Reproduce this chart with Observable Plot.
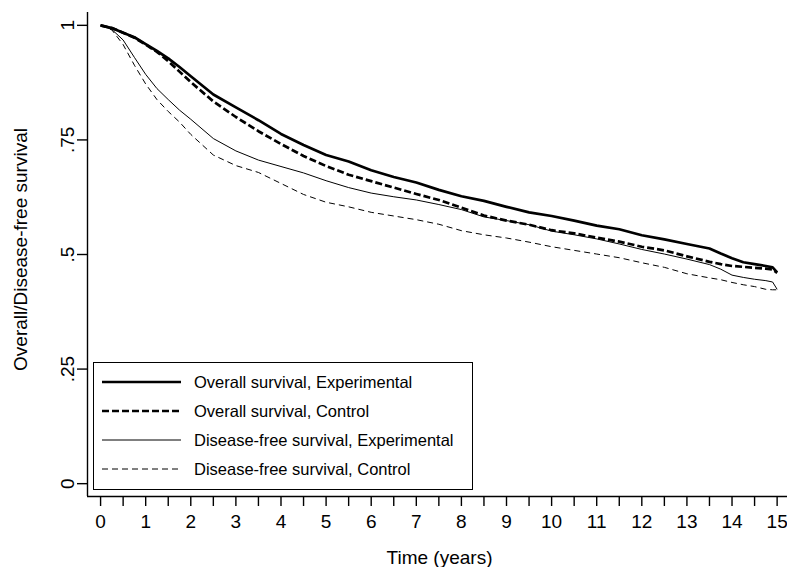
<!DOCTYPE html>
<html><head><meta charset="utf-8">
<script src="https://cdn.jsdelivr.net/npm/d3@7"></script>
<script src="https://cdn.jsdelivr.net/npm/@observablehq/plot@0.6"></script>
<style>
html,body{margin:0;padding:0;background:#fff;}
#chart{position:relative;width:787px;height:567px;font-family:"Liberation Sans",Arial,sans-serif;}
#chart svg{display:block;}
#legend{position:absolute;left:0;top:0;pointer-events:none;}
</style></head><body>
<div id="chart"></div>
<script>
// ---- data ----
const times = [0,0.25,0.5,0.75,1,1.25,1.5,1.75,2,2.5,3,3.5,4,4.5,5,5.5,6,6.5,7,7.5,8,8.5,9,9.5,10,10.5,11,11.5,12,12.5,13,13.5,13.75,14,14.25,14.5,14.75,14.9,15];
const osExperimental = [1,.994,.984,.974,.959,.944,.928,.909,.889,.849,.821,.793,.763,.739,.717,.703,.684,.669,.657,.641,.627,.617,.604,.592,.584,.574,.563,.555,.542,.533,.523,.513,.502,.492,.483,.479,.475,.472,.461];
const osControl = [1,.994,.984,.973,.958,.942,.922,.899,.876,.834,.800,.769,.741,.715,.693,.674,.660,.646,.632,.619,.602,.585,.574,.565,.553,.546,.537,.528,.517,.509,.496,.484,.479,.475,.473,.471,.469,.467,.460];
const dfsExperimental = [1,.991,.968,.930,.893,.862,.838,.815,.795,.753,.726,.706,.692,.678,.661,.646,.634,.626,.619,.609,.598,.582,.574,.565,.551,.543,.534,.523,.511,.501,.490,.478,.468,.455,.450,.446,.443,.440,.424];
const dfsControl = [1,.990,.958,.913,.872,.838,.812,.789,.762,.717,.694,.679,.655,.631,.614,.604,.592,.584,.576,.566,.552,.543,.536,.527,.517,.509,.501,.493,.482,.472,.458,.449,.445,.439,.434,.430,.424,.423,.423];
const seriesLabels = ["Overall survival, Experimental","Overall survival, Control","Disease-free survival, Experimental","Disease-free survival, Control"];
const xTicks = [0,1,2,3,4,5,6,7,8,9,10,11,12,13,14,15];
const xMinorTicks = [0.5,1.5,2.5,3.5,4.5,5.5,6.5,7.5,8.5,9.5,10.5,11.5,12.5,13.5,14.5];
const yTicks = [0,0.25,0.5,0.75,1];
const yTickLabels = ["0",".25",".5",".75","1"];
const xTitle = "Time (years)";
const yTitle = "Overall/Disease-free survival";

// ---- styles ----
const seriesValues = [osExperimental, osControl, dfsExperimental, dfsControl];
const seriesStyle = [
  {strokeWidth: 2.7, dash: null},
  {strokeWidth: 2.7, dash: "7,3"},
  {strokeWidth: 1, dash: null},
  {strokeWidth: 1, dash: "6,4"}
];
const xDomain = [-0.29, 15.23];
const yDomain = [-0.028, 1.028];

const tables = seriesValues.map((vals, k) => times.map((t, i) => ({t, v: vals[i], s: seriesLabels[k]})));

const lineMarks = tables.map((tab, k) => Plot.line(tab, {
  x: "t", y: "v", stroke: "#000",
  strokeWidth: seriesStyle[k].strokeWidth,
  strokeDasharray: seriesStyle[k].dash || undefined,
  strokeLinejoin: "round", strokeLinecap: "butt"
})).reverse();

const chart = Plot.plot({
  width: 787, height: 567,
  marginLeft: 87, marginRight: 0, marginTop: 12, marginBottom: 71,
  style: {fontFamily: '"Liberation Sans", Arial, sans-serif', color: "#000", background: "#fff"},
  x: {domain: xDomain},
  y: {domain: yDomain},
  marks: [
    Plot.ruleX([xDomain[0]], {stroke: "#000", strokeWidth: 1.4}),
    Plot.ruleY([yDomain[0]], {stroke: "#000", strokeWidth: 1.4}),
    Plot.axisX({ticks: xMinorTicks, tickSize: 10, tickFormat: () => "", strokeWidth: 1.4, label: null}),
    Plot.axisX({ticks: xTicks, tickSize: 10, tickPadding: 8, fontSize: 19, strokeWidth: 1.4, label: null, tickFormat: d => String(d)}),
    Plot.axisY({ticks: yTicks, tickSize: 10, tickPadding: 4, tickRotate: -90, fontSize: 19, strokeWidth: 1.4, label: null,
      tickFormat: d => yTickLabels[yTicks.indexOf(d)]}),
    ...lineMarks,
    Plot.text([yTitle], {frameAnchor: "left", rotate: -90, dx: -67, dy: -5, fontSize: 19, textAnchor: "middle", lineAnchor: "middle", fill: "#000"}),
    Plot.text([xTitle], {frameAnchor: "bottom", dx: 2, dy: 61, fontSize: 19, textAnchor: "middle", lineAnchor: "middle", fill: "#000"})
  ]
});
document.getElementById("chart").appendChild(chart);

// ---- legend (overlay inside the plot area) ----
const leg = d3.select("#chart").append("svg")
  .attr("id", "legend").attr("width", 787).attr("height", 567);
const box = {x: 93.5, y: 362.5, w: 379, h: 127};
leg.append("rect").attr("x", box.x).attr("y", box.y).attr("width", box.w).attr("height", box.h)
  .attr("fill", "#fff").attr("stroke", "#000").attr("stroke-width", 1);
seriesLabels.forEach((lab, k) => {
  const yy = 382 + k * 29;
  leg.append("line").attr("x1", 102).attr("x2", 181).attr("y1", yy).attr("y2", yy)
    .attr("stroke", "#000").attr("stroke-width", seriesStyle[k].strokeWidth)
    .attr("stroke-dasharray", seriesStyle[k].dash);
  leg.append("text").attr("x", 194).attr("y", yy).attr("dy", "0.35em")
    .attr("font-family", '"Liberation Sans", Arial, sans-serif').attr("font-size", 16.5)
    .attr("fill", "#000").text(lab);
});
</script>
</body></html>
